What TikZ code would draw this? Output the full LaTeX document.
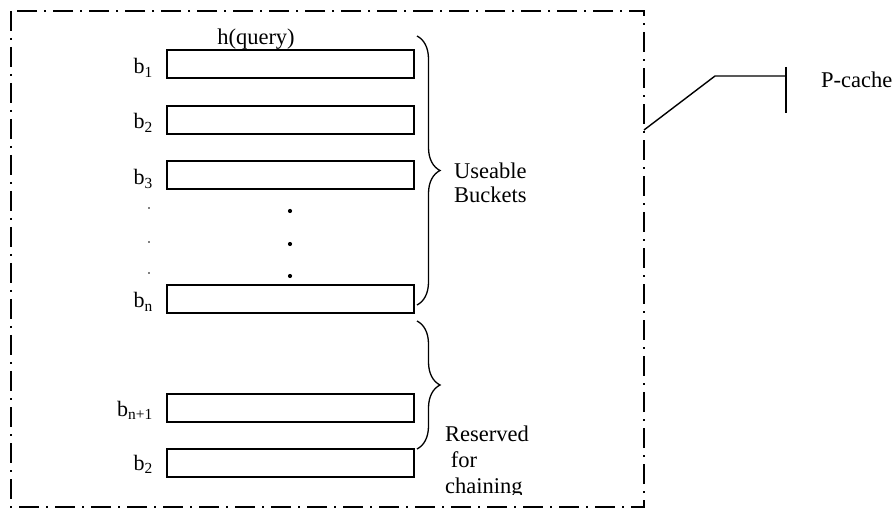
\documentclass[tikz,border=0pt]{standalone}
\usepackage{fontspec}
\setmainfont{Liberation Serif}
\usetikzlibrary{decorations.pathreplacing}
\begin{document}
\begin{tikzpicture}[x=1pt,y=-1pt,
  bucket/.style={draw, line width=1.6pt, minimum width=247pt, minimum height=28pt, inner sep=0pt, anchor=north west},
  lbl/.style={font=\fontsize{22}{26}\selectfont, anchor=base east, inner sep=0pt},
  txt/.style={font=\fontsize{22.5}{26}\selectfont, anchor=base west, inner sep=0pt},
  border/.style={line width=1.8pt, dash pattern=on 20pt off 7pt on 2pt off 7pt},
  bracestyle/.style={line width=1.3pt, decorate, decoration={brace, amplitude=23pt}},
  link/.style={line width=1.4pt}]
\useasboundingbox (0,0) rectangle (894,510);
% outer dash-dot frame
\draw[border] (11,11) rectangle (644,507);
% buckets
\node[bucket] (B1) at (166,49) {};
\node[bucket] (B2) at (166,105) {};
\node[bucket] (B3) at (166,160) {};
\node[bucket] (Bn) at (166,284) {};
\node[bucket] (Bn1) at (166,393) {};
\node[bucket] (Bl) at (166,448) {};
% labels
\node[lbl] (L1) at (153,74) {b\textsubscript{1}};
\node[lbl] (L2) at (153,129) {b\textsubscript{2}};
\node[lbl] (L3) at (153,185) {b\textsubscript{3}};
\node[lbl] (Ln) at (153,308) {b\textsubscript{n}};
\node[lbl] (Ln1) at (153,416) {b\textsubscript{n+1}};
\node[lbl] (Ll) at (153,470) {b\textsubscript{2}};
\node[font=\fontsize{22.5}{26}\selectfont, anchor=base, inner sep=0pt] (hq) at (256,45) {h(query)};
% dots
\foreach \y in {208,242,273} \fill (149,\y) circle (0.9pt);
\foreach \y in {211,244,276} \fill (290,\y) circle (2.1pt);
% braces
\coordinate (ub1) at (417,36);
\coordinate (ub2) at (417,305);
\draw[bracestyle] (ub1) -- (ub2);
\coordinate (lb1) at (417,321);
\coordinate (lb2) at (417,449);
\draw[bracestyle] (lb1) -- (lb2);
% brace texts
\node[txt] (U1) at (454,179) {Useable};
\node[txt] (U2) at (454,203) {Buckets};
\begin{scope}
\clip (430,400) rectangle (600,494);
\node[txt] (R1) at (445,441) {Reserved};
\node[txt] (R2) at (445,467) {\ for};
\node[txt] (R3) at (445,493) {chaining};
\end{scope}
% P-cache link
\coordinate (pstart) at (644,130);
\coordinate (pbend) at (715,76);
\coordinate (pbar) at (786,76);
\draw[link] (pstart) -- (pbend) -- (pbar);
\draw[link] (786,67) -- (786,113);
\node[txt] (pc) at (821,88) {P-cache};
\end{tikzpicture}
\end{document}
